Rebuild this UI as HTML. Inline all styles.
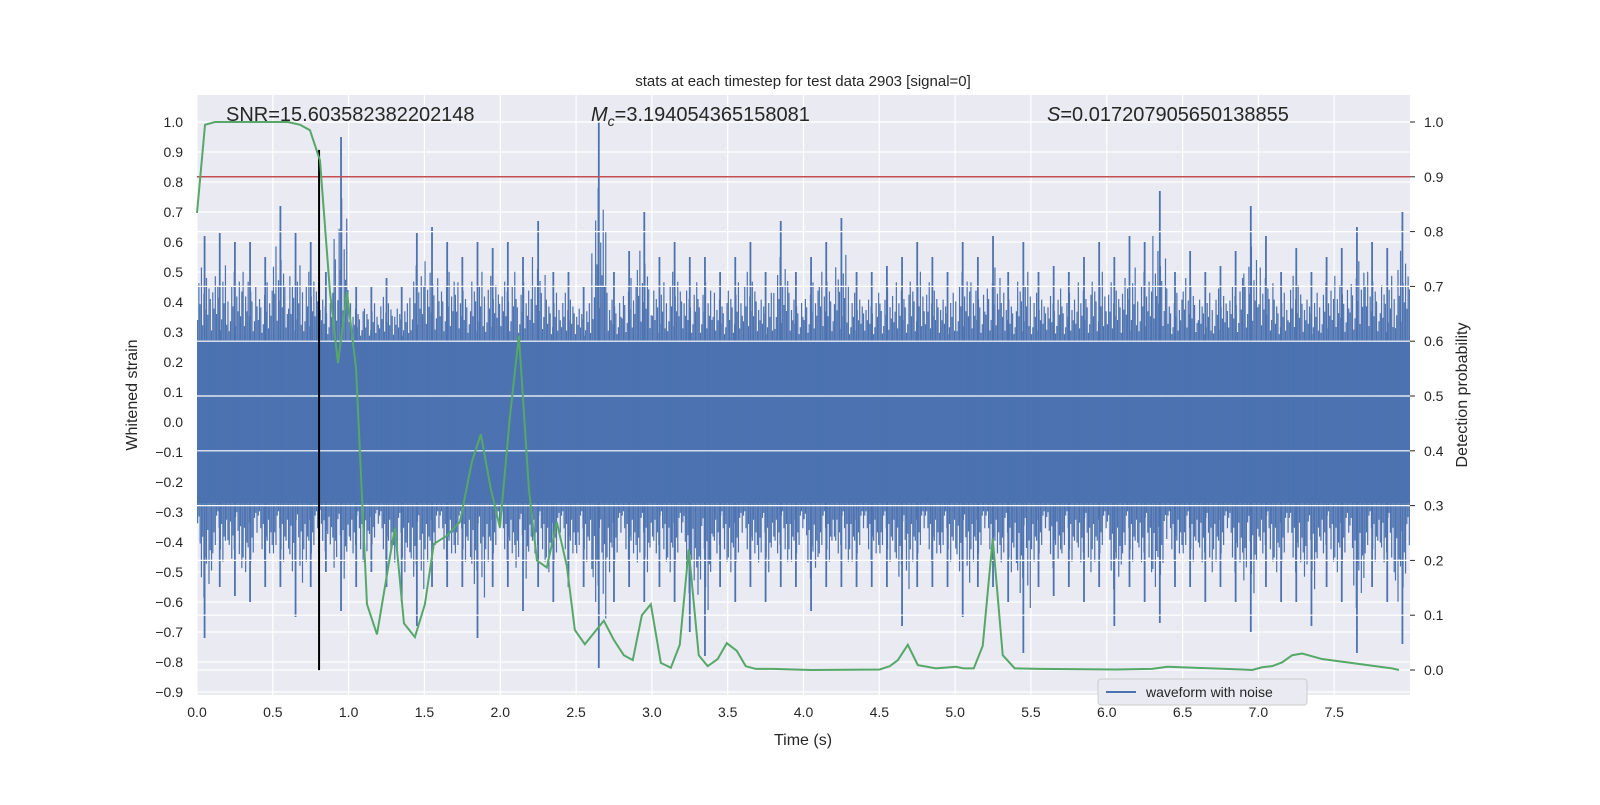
<!DOCTYPE html>
<html><head><meta charset="utf-8"><style>
body{margin:0;background:#fff;}
svg text{font-family:"Liberation Sans","DejaVu Sans",sans-serif;fill:#262626;}
</style></head><body>
<svg id="chart" width="1600" height="800" xmlns="http://www.w3.org/2000/svg">
<text x="803" y="86" font-size="15" text-anchor="middle">stats at each timestep for test data 2903 [signal=0]</text>
<rect x="197" y="95" width="1213" height="600" fill="#eaeaf2"/>
<g id="gridL"></g><g id="wave"></g><g id="gridR"></g><g id="overlay"></g><g id="axes"></g>
<text x="226" y="121" font-size="20">SNR=15.603582382202148</text>
<text x="591" y="121" font-size="20"><tspan font-style="italic">M</tspan><tspan font-style="italic" font-size="14" dy="5">c</tspan><tspan dy="-5">=3.194054365158081</tspan></text>
<text x="1047" y="121" font-size="20"><tspan font-style="italic">S</tspan>=0.017207905650138855</text>
<text x="803" y="745" font-size="16" text-anchor="middle">Time (s)</text>
<text transform="translate(137,395) rotate(-90)" font-size="16" text-anchor="middle">Whitened strain</text>
<text transform="translate(1467,395) rotate(-90)" font-size="16" text-anchor="middle">Detection probability</text>
<g>
<rect x="1098" y="679" width="209" height="26" rx="3" fill="#eaeaf2" stroke="#cccccc"/>
<line x1="1106" y1="692" x2="1136" y2="692" stroke="#4c72b0" stroke-width="2"/>
<text x="1146" y="697" font-size="14">waveform with noise</text>
</g>
</svg>
<script>
const xTicks=[0,0.5,1,1.5,2,2.5,3,3.5,4,4.5,5,5.5,6,6.5,7,7.5];
const yTicks=[1.0,0.9,0.8,0.7,0.6,0.5,0.4,0.3,0.2,0.1,0,-0.1,-0.2,-0.3,-0.4,-0.5,-0.6,-0.7,-0.8,-0.9];
const y2Ticks=[0,0.1,0.2,0.3,0.4,0.5,0.6,0.7,0.8,0.9,1.0];
const waveHi=[0.62,0.63,0.6,0.6,0.55,0.72,0.63,0.6,0.5,0.95,0.45,0.45,0.48,0.45,0.63,0.65,0.6,0.55,0.6,0.58,0.6,0.55,0.67,0.5,0.5,0.45,1.0,0.5,0.57,0.7,0.55,0.6,0.55,0.55,0.5,0.55,0.6,0.5,0.67,0.5,0.55,0.6,0.68,0.5,0.5,0.52,0.55,0.6,0.55,0.5,0.6,0.55,0.62,0.5,0.6,0.5,0.52,0.5,0.55,0.6,0.55,0.62,0.6,0.77,0.5,0.57,0.5,0.52,0.57,0.72,0.62,0.5,0.58,0.5,0.55,0.58,0.65,0.6,0.58,0.7];
const waveLo=[-0.72,-0.55,-0.58,-0.6,-0.55,-0.55,-0.65,-0.55,-0.5,-0.63,-0.55,-0.5,-0.55,-0.6,-0.68,-0.55,-0.55,-0.55,-0.72,-0.55,-0.55,-0.63,-0.55,-0.6,-0.55,-0.55,-0.82,-0.6,-0.55,-0.6,-0.55,-0.6,-0.7,-0.78,-0.55,-0.6,-0.55,-0.6,-0.55,-0.55,-0.63,-0.55,-0.55,-0.55,-0.55,-0.55,-0.68,-0.55,-0.55,-0.55,-0.65,-0.55,-0.55,-0.6,-0.77,-0.55,-0.58,-0.55,-0.6,-0.55,-0.68,-0.55,-0.6,-0.67,-0.55,-0.55,-0.6,-0.55,-0.6,-0.7,-0.55,-0.6,-0.6,-0.68,-0.55,-0.6,-0.77,-0.55,-0.6,-0.74];
const coreHi=0.27, coreLo=-0.27;
const probT=[0,0.053,0.119,0.6,0.679,0.745,0.811,0.877,0.93,0.989,1.049,1.121,1.187,1.305,1.365,1.437,1.503,1.562,1.648,1.734,1.813,1.872,1.938,1.998,2.063,2.123,2.189,2.242,2.307,2.373,2.439,2.492,2.558,2.683,2.749,2.815,2.874,2.934,2.993,3.059,3.125,3.184,3.243,3.309,3.368,3.434,3.494,3.56,3.619,3.685,3.794,4.054,4.503,4.569,4.622,4.688,4.754,4.873,5.004,5.057,5.123,5.182,5.248,5.314,5.393,5.558,6.059,6.3,6.399,6.893,6.959,7.025,7.091,7.157,7.223,7.289,7.42,7.881,7.927];
const probV=[0.834,0.995,1.0,1.0,0.995,0.985,0.93,0.69,0.56,0.69,0.55,0.12,0.065,0.26,0.085,0.06,0.12,0.23,0.245,0.27,0.38,0.43,0.33,0.26,0.46,0.61,0.33,0.2,0.187,0.27,0.19,0.073,0.047,0.09,0.055,0.027,0.018,0.1,0.12,0.013,0.004,0.046,0.22,0.027,0.007,0.02,0.049,0.035,0.007,0.002,0.002,0.0,0.001,0.007,0.018,0.046,0.009,0.003,0.006,0.003,0.003,0.044,0.24,0.027,0.003,0.002,0.001,0.002,0.006,0.001,0.0,0.005,0.007,0.014,0.027,0.03,0.02,0.003,0.0];
const thresh=0.9, markerT=0.805, markerTop=0.907, markerBot=-0.827;
const X0=197,X1=1410,T0=0,T1=8;
const xs=t=>X0+(t-T0)/(T1-T0)*(X1-X0);
const yL=v=>422-300*v;
const yR=p=>670-548*p;
const NS="http://www.w3.org/2000/svg";
function mk(parent,tag,attrs){const e=document.createElementNS(NS,tag);for(const k in attrs)e.setAttribute(k,attrs[k]);document.getElementById(parent).appendChild(e);return e;}
xTicks.forEach(t=>{const l=mk('gridL','line',{x1:xs(t),x2:xs(t),y1:95,y2:695,stroke:'#fff','stroke-width':1.2});


const tx=mk('axes','text',{x:xs(t),y:717,'font-size':14,'text-anchor':'middle'});tx.textContent=t.toFixed(1);

});
yTicks.forEach(v=>{const l=mk('gridL','line',{x1:X0,x2:X1,y1:yL(v),y2:yL(v),stroke:'#fff','stroke-width':1.2});


const tx=mk('axes','text',{x:183,y:yL(v)+5,'font-size':14,'text-anchor':'end'});tx.textContent=v.toFixed(1).replace('-','\u2212');

});
const core=mk('wave','rect',{x:X0,y:yL(coreHi),width:X1-X0,height:yL(coreLo)-yL(coreHi),fill:'#4c72b0'});


const bw=(T1-T0)/waveHi.length;
const texture=[0.2,0.55,0.35,0.7,0.15,0.45,0.3,0.6,0.25,0.5,0.4,0.1];
waveHi.forEach((h,i)=>{const tc=T0+(i+0.5)*bw;
const l=mk('wave','line',{x1:xs(tc),x2:xs(tc),y1:yL(h),y2:yL(waveLo[i]),stroke:'#4c72b0','stroke-width':1.8});


for(let k=0;k<12;k++){const tt=T0+(i+(k+0.5)/12)*bw;const f=texture[(k+i*5)%12];const g=texture[(k*7+i*3+4)%12];
const m=mk('wave','line',{x1:xs(tt),x2:xs(tt),y1:yL(coreHi+(h-coreHi)*f),y2:yL(coreLo+(waveLo[i]-coreLo)*g),stroke:'#4c72b0','stroke-width':1.2});

}});
y2Ticks.forEach(p=>{const l=mk('gridR','line',{x1:X0,x2:X1,y1:yR(p),y2:yR(p),stroke:'#fff','stroke-width':1.2});


const tx=mk('axes','text',{x:1424,y:yR(p)+5,'font-size':14});tx.textContent=p.toFixed(1);


const tk=mk('axes','line',{x1:X1,x2:X1+5,y1:yR(p),y2:yR(p),stroke:'#262626'});

});
const th=mk('overlay','line',{x1:X0,x2:X1,y1:yR(thresh),y2:yR(thresh),stroke:'#c44e52','stroke-width':1.5});


const mline=mk('overlay','line',{x1:xs(markerT),x2:xs(markerT),y1:yL(markerTop),y2:yL(markerBot),stroke:'#000','stroke-width':2});


const pl=mk('overlay','polyline',{points:probT.map((t,i)=>xs(t)+','+yR(probV[i])).join(' '),fill:'none',stroke:'#55a868','stroke-width':2});


</script>
</body></html>
